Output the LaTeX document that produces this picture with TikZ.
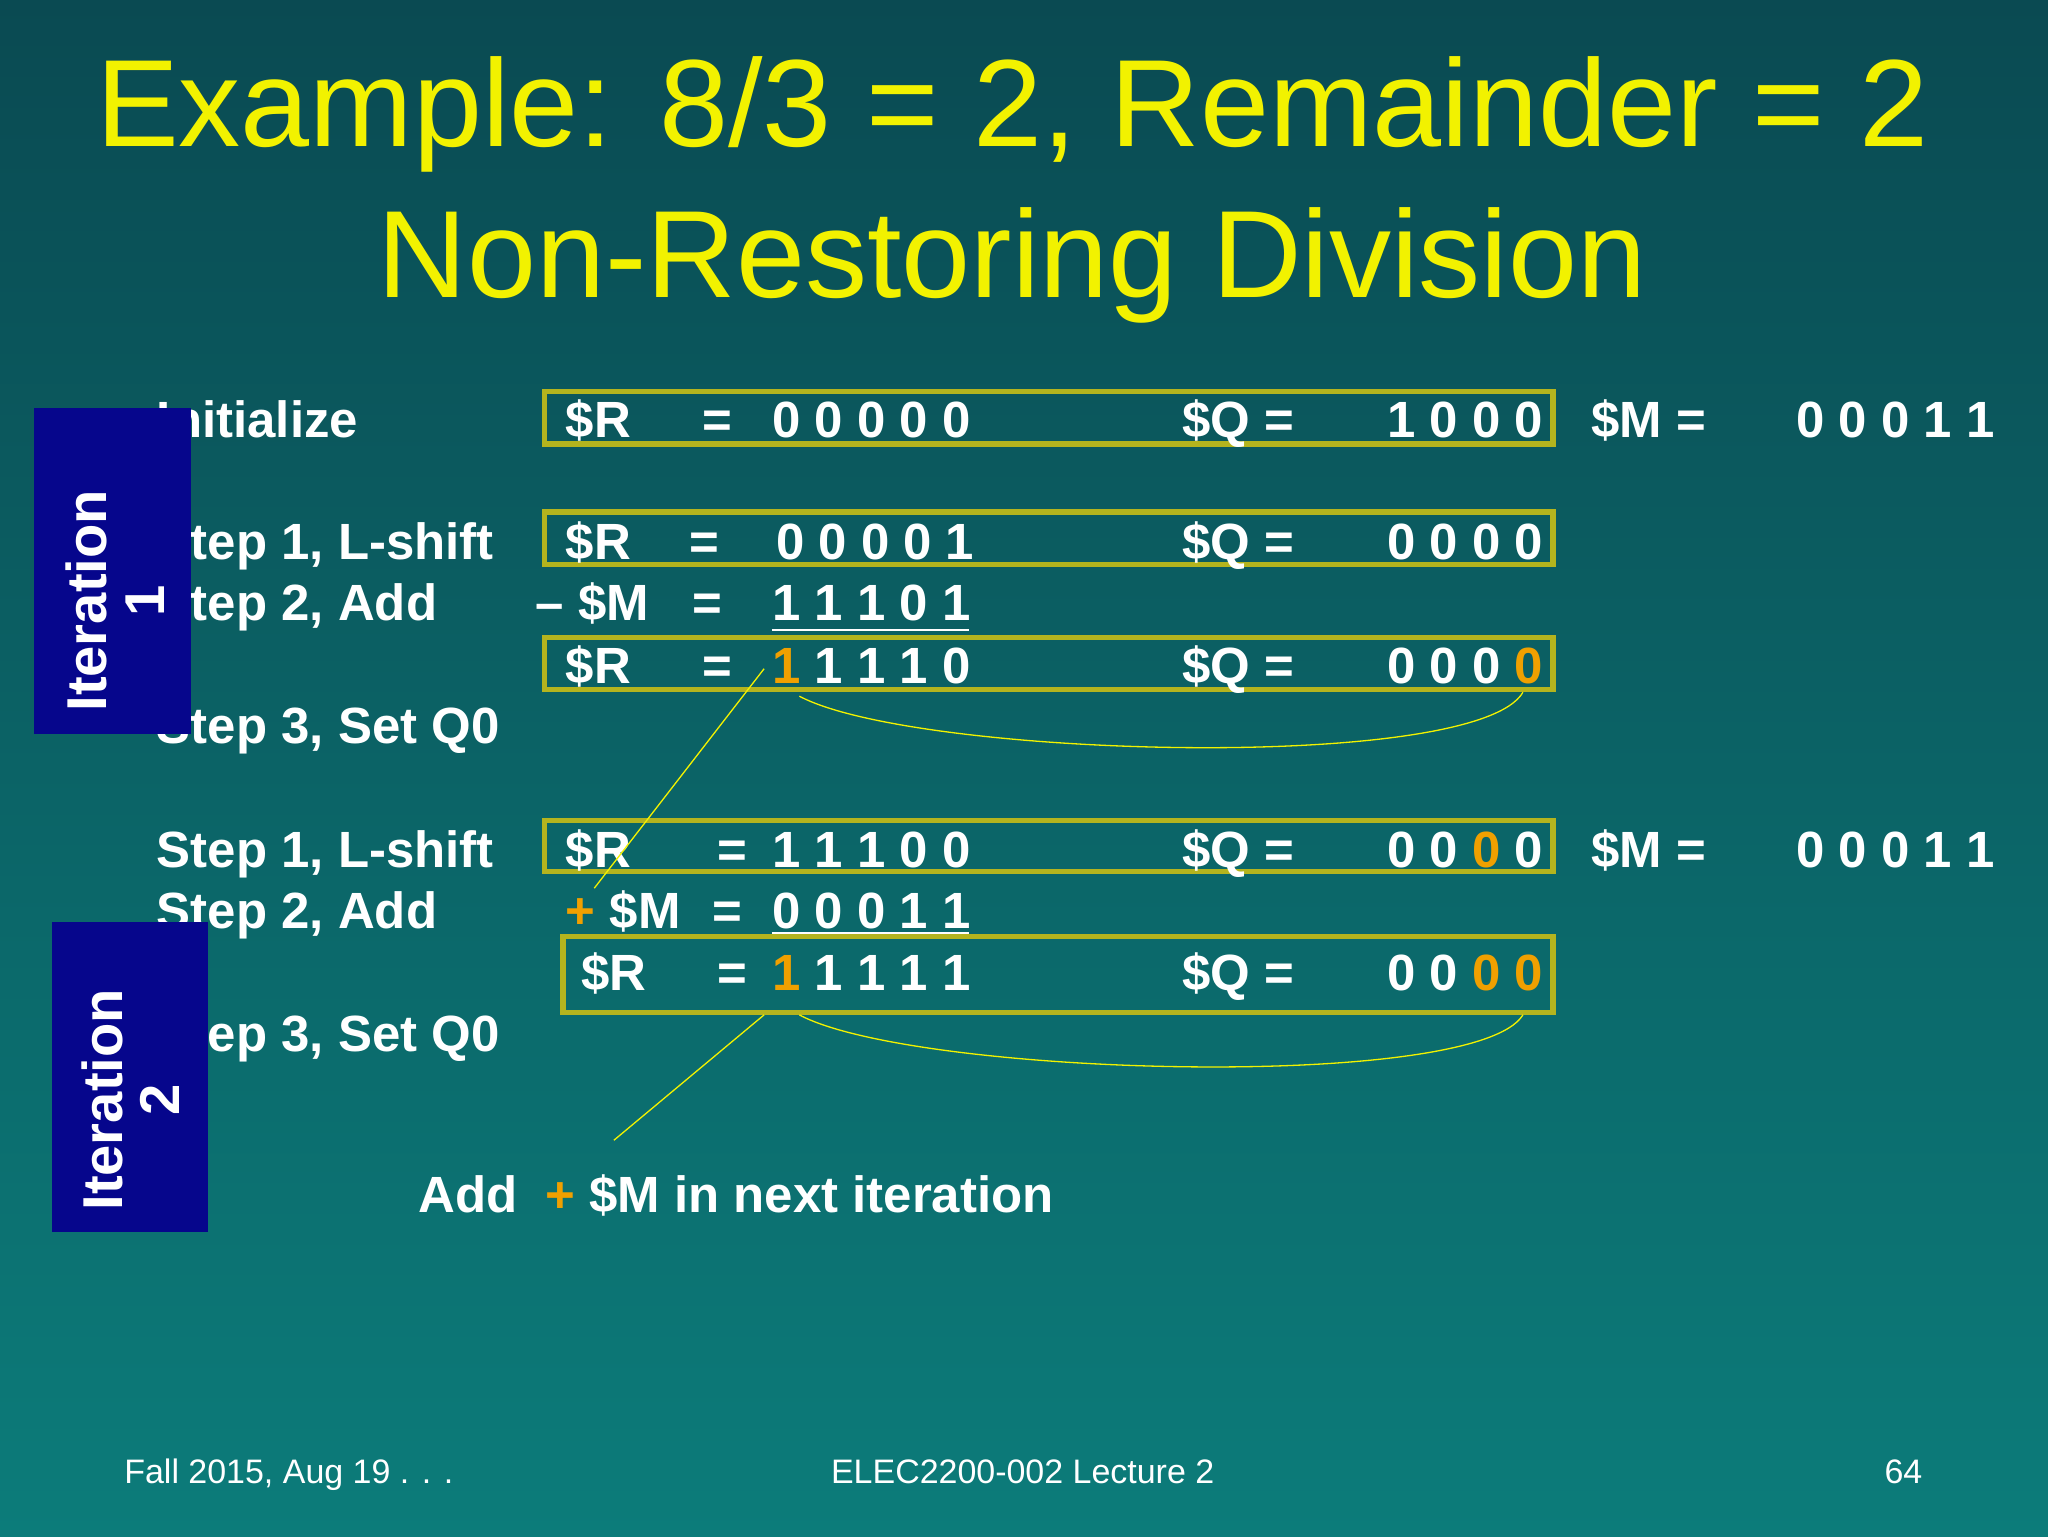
\documentclass[tikz,border=0pt]{standalone}
\usepackage{fontspec}
\setmainfont{Liberation Sans}
\definecolor{ttl}{HTML}{F2F200}
\definecolor{boxc}{HTML}{B4B41E}
\definecolor{org}{HTML}{F0A000}
\definecolor{navy}{HTML}{06068C}
\definecolor{bgt}{HTML}{0A4A52}
\definecolor{bgb}{HTML}{0C7C7A}
\begin{document}
\begin{tikzpicture}[x=1pt,y=-1pt,
  tx/.style={anchor=base west,inner sep=0pt,text=white,font=\fontsize{39}{42}\selectfont\bfseries},
  ft/.style={inner sep=0pt,text=white,font=\fontsize{26}{30}\selectfont},
  regbox/.style={draw=boxc,line width=4pt},
  link/.style={draw=ttl,line width=1pt},
  ittext/.style={rotate=90,align=center,text=white,font=\fontsize{43}{44}\selectfont\bfseries}]
\shade[top color=bgt,bottom color=bgb] (0,0) rectangle (1568,1176);
\useasboundingbox (0,0) rectangle (1568,1176);
% title
\node[anchor=base,inner sep=0pt,text=ttl,font=\fontsize{95}{100}\selectfont] (t1) at (775,112) {Example: 8/3 = 2, Remainder = 2};
\node[anchor=base,inner sep=0pt,text=ttl,font=\fontsize{95}{100}\selectfont] (t2) at (775,228) {Non-Restoring Division};
% boxes
\draw[regbox] (417,300) rectangle (1189,340);
\draw[regbox] (417,392) rectangle (1189,432);
\draw[regbox] (417,488) rectangle (1189,528);
\draw[regbox] (417,628) rectangle (1189,667);
\draw[regbox] (431,717) rectangle (1189,775);
% left labels
\node[tx] (l1) at (120,335) {Initialize};
\node[tx] (l2) at (120,428) {Step 1, L-shift};
\node[tx] (l3) at (120,475) {Step 2, Add};
\node[tx] (l4) at (120,569) {Step 3, Set Q0};
\node[tx] (l5) at (120,664) {Step 1, L-shift};
\node[tx] (l6) at (120,711) {Step 2, Add};
\node[tx] (l7) at (120,805) {Step 3, Set Q0};
% row 1
\node[tx] (r1a) at (433,335) {\$R};
\node[tx] (r1b) at (538,335) {=};
\node[tx] (r1c) at (591,335) {0 0 0 0 0};
\node[tx] (r1d) at (905,335) {\$Q =};
\node[tx] (r1e) at (1062,335) {1 0 0 0};
\node[tx] (r1f) at (1218,335) {\$M =};
\node[tx] (r1g) at (1375,335) {0 0 0 1 1};
% row 2
\node[tx] (r2a) at (433,428) {\$R};
\node[tx] (r2b) at (528,428) {=};
\node[tx] (r2c) at (594,428) {0 0 0 0 1};
\node[tx] (r2d) at (905,428) {\$Q =};
\node[tx] (r2e) at (1062,428) {0 0 0 0};
% row 3
\node[tx] (r3a) at (410,475) {-- \$M};
\node[tx] (r3b) at (530,475) {=};
\node[tx] (r3c) at (591,475) {1 1 1 0 1};
\draw[white,line width=1.5pt] (591,482) -- (742,482);
% row 4
\node[tx] (r4a) at (433,523) {\$R};
\node[tx] (r4b) at (538,523) {=};
\node[tx] (r4c) at (591,523) {\textcolor{org}{1} 1 1 1 0};
\node[tx] (r4d) at (905,523) {\$Q =};
\node[tx] (r4e) at (1062,523) {0 0 0 \textcolor{org}{0}};
% row 6
\node[tx] (r6a) at (433,664) {\$R};
\node[tx] (r6b) at (549,664) {=};
\node[tx] (r6c) at (591,664) {1 1 1 0 0};
\node[tx] (r6d) at (905,664) {\$Q =};
\node[tx] (r6e) at (1062,664) {0 0 \textcolor{org}{0} 0};
\node[tx] (r6f) at (1218,664) {\$M =};
\node[tx] (r6g) at (1375,664) {0 0 0 1 1};
% row 7
\node[tx] (r7a) at (433,711) {\textcolor{org}{+} \$M};
\node[tx] (r7b) at (545,711) {=};
\node[tx] (r7c) at (591,711) {0 0 0 1 1};
\draw[white,line width=1.5pt] (591,714) -- (742,714);
% row 8
\node[tx] (r8a) at (445,758) {\$R};
\node[tx] (r8b) at (549,758) {=};
\node[tx] (r8c) at (591,758) {\textcolor{org}{1} 1 1 1 1};
\node[tx] (r8d) at (905,758) {\$Q =};
\node[tx] (r8e) at (1062,758) {0 0 \textcolor{org}{0 0}};
% note
\node[tx] (nt) at (320,928) {Add \ \textcolor{org}{+} \$M in next iteration};
% connectors
\coordinate (c1) at (612,533); \coordinate (c2) at (1166,530);
\draw[link] (c1) .. controls (700,580) and (1130,592) .. (c2);
\coordinate (c3) at (612,777); \coordinate (c4) at (1166,777);
\draw[link] (c3) .. controls (700,824) and (1130,836) .. (c4);
\coordinate (d1) at (585,512); \coordinate (d2) at (455,680);
\draw[link] (d1) -- (d2);
\coordinate (d3) at (585,777); \coordinate (d4) at (470,873);
\draw[link] (d3) -- (d4);
% iteration boxes
\fill[navy] (26,312) rectangle (146,562);
\node[ittext] (it1) at (88,460) {Iteration\\1};
\fill[navy] (40,706) rectangle (159,943);
\node[ittext] (it2) at (100,842) {Iteration\\2};
% footer
\node[ft,anchor=base west] (f1) at (95,1136) {Fall 2015, Aug 19 . . .};
\node[ft,anchor=base] (f2) at (783,1136) {ELEC2200-002 Lecture 2};
\node[ft,anchor=base east] (f3) at (1472,1136) {64};
\end{tikzpicture}
\end{document}
